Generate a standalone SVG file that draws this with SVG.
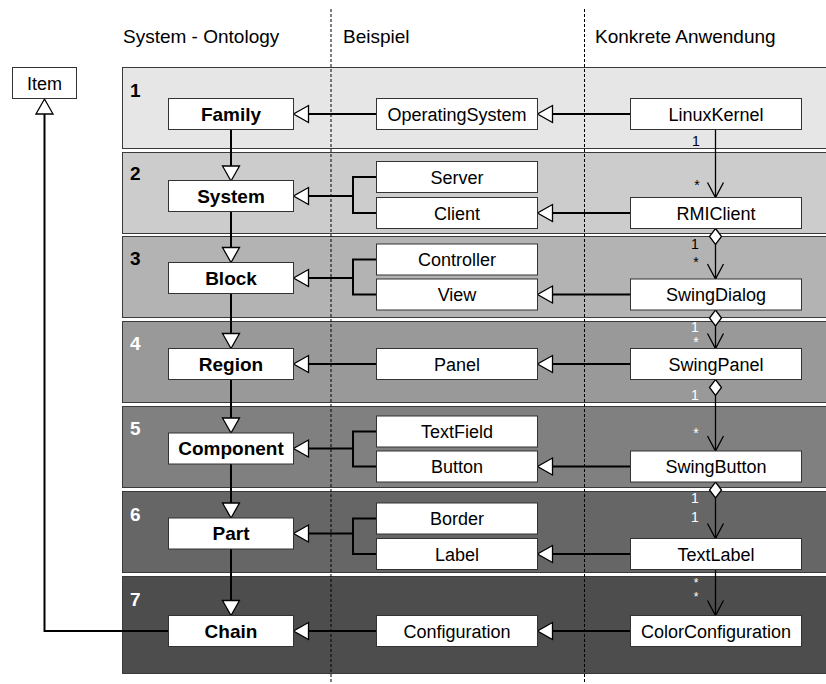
<svg xmlns="http://www.w3.org/2000/svg" width="826" height="684" viewBox="0 0 826 684">
  <style>
    text { font-family: "Liberation Sans", Arial, sans-serif; }
    .hdr { font-size: 19px; fill: #000; }
    .num { font-size: 19px; font-weight: bold; }
    .band { stroke: #3a3a3a; stroke-width: 1; }
    .box rect { fill: #fff; stroke: #333; stroke-width: 1; }
    .box text { font-size: 18px; text-anchor: middle; fill: #000; }
    .main text { font-weight: bold; font-size: 19px; }
    .sep { stroke: #000; stroke-width: 1; stroke-dasharray: 3 2; fill: none; }
    .gen { fill: none; stroke: #000; stroke-width: 2; marker-end: url(#tri); }
    .tree { fill: none; stroke: #000; stroke-width: 2; }
    .assoc { fill: none; stroke: #000; stroke-width: 1.3; marker-end: url(#open); }
    .agg { marker-start: url(#dia); }
    .mult { font-size: 14px; text-anchor: middle; }
    .star { font-size: 12px; text-anchor: middle; }
  </style>
  <defs>
    <!-- hollow generalization triangle, placed at the end of the line -->
    <marker id="tri" markerUnits="userSpaceOnUse" markerWidth="18" markerHeight="20" refX="0" refY="9" orient="auto" overflow="visible">
      <path d="M0,0.5 L15,9 L0,17.5 Z" fill="#fff" stroke="#000" stroke-width="1.3"/>
    </marker>
    <!-- open navigation arrowhead -->
    <marker id="open" markerUnits="userSpaceOnUse" markerWidth="18" markerHeight="18" refX="15" refY="8" orient="auto" overflow="visible">
      <path d="M0,0 L15,8 L0,16" fill="none" stroke="#000" stroke-width="1.3"/>
    </marker>
    <!-- hollow aggregation diamond -->
    <marker id="dia" markerUnits="userSpaceOnUse" markerWidth="18" markerHeight="14" refX="0" refY="6" orient="auto" overflow="visible">
      <path d="M0,6 L8,0 L16,6 L8,12 Z" fill="#fff" stroke="#000" stroke-width="1.3"/>
    </marker>
  </defs>

  <rect width="826" height="684" fill="#fff"/>

  <!-- column headers -->
  <text class="hdr" x="123" y="43">System - Ontology</text>
  <text class="hdr" x="343" y="43">Beispiel</text>
  <text class="hdr" x="595" y="43">Konkrete Anwendung</text>

  <!-- level bands -->
  <g id="bands">
    <rect class="band" x="122.5" y="67.5" width="705" height="81" fill="#e6e6e6"/>
    <rect class="band" x="122.5" y="152.5" width="705" height="81" fill="#cccccc"/>
    <rect class="band" x="122.5" y="236.5" width="705" height="81" fill="#b3b3b3"/>
    <rect class="band" x="122.5" y="321.5" width="705" height="81" fill="#999999"/>
    <rect class="band" x="122.5" y="406.5" width="705" height="81" fill="#808080"/>
    <rect class="band" x="122.5" y="491.5" width="705" height="81" fill="#666666"/>
    <rect class="band" x="122.5" y="576.5" width="705" height="97" fill="#4d4d4d"/>
    <text class="num" x="130" y="97" fill="#000">1</text>
    <text class="num" x="130" y="180" fill="#000">2</text>
    <text class="num" x="130" y="265" fill="#000">3</text>
    <text class="num" x="130" y="350" fill="#fff">4</text>
    <text class="num" x="130" y="435" fill="#fff">5</text>
    <text class="num" x="130" y="521" fill="#fff">6</text>
    <text class="num" x="130" y="606" fill="#fff">7</text>
  </g>

  <!-- column separators -->
  <line class="sep" x1="331" y1="9" x2="331" y2="684"/>
  <line class="sep" x1="584.5" y1="9" x2="584.5" y2="684"/>

  <g id="connectors">
    <!-- ontology chain -->
    <path class="gen" d="M231,129.5 V166"/>
    <path class="gen" d="M231,211.5 V247.5"/>
    <path class="gen" d="M231,293.5 V333.5"/>
    <path class="gen" d="M231,379.5 V418"/>
    <path class="gen" d="M231,464 V503"/>
    <path class="gen" d="M231,549 V600.5"/>
    <path class="gen" d="M168.5,631 H44.5 V114"/>

    <!-- examples to ontology -->
    <path class="gen" d="M376,114 H308.5"/>
    <path class="tree" d="M376,177 H353 V213 H376"/>
    <path class="gen" d="M353,196 H308.5"/>
    <path class="tree" d="M376,259.5 H353 V294.5 H376"/>
    <path class="gen" d="M353,278 H308.5"/>
    <path class="gen" d="M376,364 H308.5"/>
    <path class="tree" d="M376,431.5 H353 V466.5 H376"/>
    <path class="gen" d="M353,448.5 H308.5"/>
    <path class="tree" d="M376,518.5 H353 V554 H376"/>
    <path class="gen" d="M353,533.5 H308.5"/>
    <path class="gen" d="M376,631 H308.5"/>

    <!-- applications to examples -->
    <path class="gen" d="M630,114 H552.5"/>
    <path class="gen" d="M630,213 H552.5"/>
    <path class="gen" d="M630,294.5 H552.5"/>
    <path class="gen" d="M630,364 H552.5"/>
    <path class="gen" d="M630,466.5 H552.5"/>
    <path class="gen" d="M630,554 H552.5"/>
    <path class="gen" d="M630,631 H552.5"/>

    <!-- associations between applications -->
    <path class="assoc" d="M715.5,129.5 V197.5"/>
    <path class="assoc agg" d="M715.5,228.5 V279"/>
    <path class="assoc agg" d="M715.5,310 V348.5"/>
    <path class="assoc agg" d="M715.5,379.5 V451"/>
    <path class="assoc agg" d="M715.5,482 V538.5"/>
    <path class="assoc" d="M715.5,569.5 V615.5"/>

    <text class="mult" x="696" y="146" fill="#000">1</text>
    <text class="mult" x="697" y="190" fill="#000">*</text>
    <text class="mult" x="695" y="249" fill="#000">1</text>
    <text class="mult" x="696" y="267" fill="#000">*</text>
    <text class="mult" x="695" y="332" fill="#fff">1</text>
    <text class="mult" x="696" y="347" fill="#fff">*</text>
    <text class="mult" x="695" y="400" fill="#fff">1</text>
    <text class="mult" x="696" y="438" fill="#fff">*</text>
    <text class="mult" x="695" y="503" fill="#fff">1</text>
    <text class="mult" x="695" y="522" fill="#fff">1</text>
    <text class="star" x="696" y="587" fill="#fff">*</text>
    <text class="star" x="696" y="601" fill="#fff">*</text>
  </g>

  <!-- root -->
  <g id="item" class="box"><rect x="12.5" y="67.5" width="64" height="31"/><text x="44.5" y="89.5">Item</text></g>

  <!-- ontology levels -->
  <g id="family" class="box main"><rect x="168.5" y="98.5" width="125" height="31"/><text x="231" y="120.5">Family</text></g>
  <g id="system" class="box main"><rect x="168.5" y="180.5" width="125" height="31"/><text x="231" y="202.5">System</text></g>
  <g id="block" class="box main"><rect x="168.5" y="262.5" width="125" height="31"/><text x="231" y="284.5">Block</text></g>
  <g id="region" class="box main"><rect x="168.5" y="348.5" width="125" height="31"/><text x="231" y="370.5">Region</text></g>
  <g id="component" class="box main"><rect x="168.5" y="433" width="125" height="31"/><text x="231" y="455">Component</text></g>
  <g id="part" class="box main"><rect x="168.5" y="518" width="125" height="31"/><text x="231" y="540">Part</text></g>
  <g id="chain" class="box main"><rect x="168.5" y="615.5" width="125" height="31"/><text x="231" y="637.5">Chain</text></g>

  <!-- examples -->
  <g id="operatingsystem" class="box"><rect x="376.5" y="98.5" width="161" height="31"/><text x="457" y="120.5">OperatingSystem</text></g>
  <g id="server" class="box"><rect x="376.5" y="161.5" width="161" height="31"/><text x="457" y="183.5">Server</text></g>
  <g id="client" class="box"><rect x="376.5" y="197.5" width="161" height="31"/><text x="457" y="219.5">Client</text></g>
  <g id="controller" class="box"><rect x="376.5" y="244" width="161" height="31"/><text x="457" y="266">Controller</text></g>
  <g id="view" class="box"><rect x="376.5" y="279" width="161" height="31"/><text x="457" y="301">View</text></g>
  <g id="panel" class="box"><rect x="376.5" y="348.5" width="161" height="31"/><text x="457" y="370.5">Panel</text></g>
  <g id="textfield" class="box"><rect x="376.5" y="416" width="161" height="31"/><text x="457" y="438">TextField</text></g>
  <g id="button" class="box"><rect x="376.5" y="451" width="161" height="31"/><text x="457" y="473">Button</text></g>
  <g id="border" class="box"><rect x="376.5" y="503" width="161" height="31"/><text x="457" y="525">Border</text></g>
  <g id="label" class="box"><rect x="376.5" y="538.5" width="161" height="31"/><text x="457" y="560.5">Label</text></g>
  <g id="configuration" class="box"><rect x="376.5" y="615.5" width="161" height="31"/><text x="457" y="637.5">Configuration</text></g>

  <!-- applications -->
  <g id="linuxkernel" class="box"><rect x="630.5" y="98.5" width="171" height="31"/><text x="716" y="120.5">LinuxKernel</text></g>
  <g id="rmiclient" class="box"><rect x="630.5" y="197.5" width="171" height="31"/><text x="716" y="219.5">RMIClient</text></g>
  <g id="swingdialog" class="box"><rect x="630.5" y="279" width="171" height="31"/><text x="716" y="301">SwingDialog</text></g>
  <g id="swingpanel" class="box"><rect x="630.5" y="348.5" width="171" height="31"/><text x="716" y="370.5">SwingPanel</text></g>
  <g id="swingbutton" class="box"><rect x="630.5" y="451" width="171" height="31"/><text x="716" y="473">SwingButton</text></g>
  <g id="textlabel" class="box"><rect x="630.5" y="538.5" width="171" height="31"/><text x="716" y="560.5">TextLabel</text></g>
  <g id="colorconfiguration" class="box"><rect x="630.5" y="615.5" width="171" height="31"/><text x="716" y="637.5">ColorConfiguration</text></g>
</svg>
